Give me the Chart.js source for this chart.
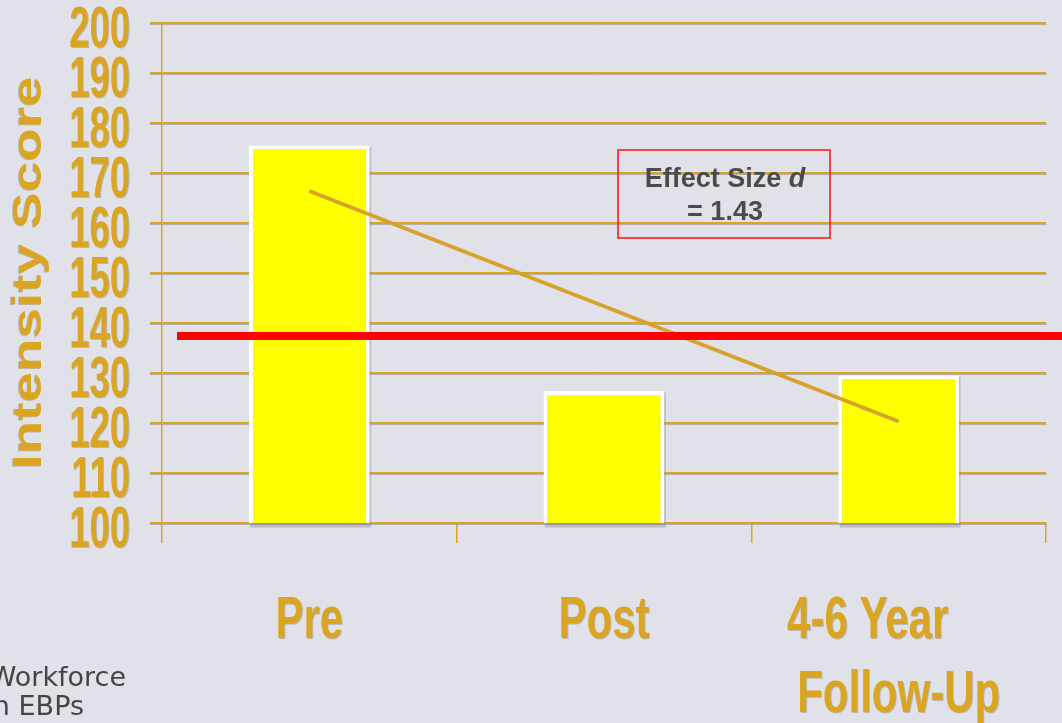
<!DOCTYPE html>
<html>
<head>
<meta charset="utf-8">
<script src="https://cdn.jsdelivr.net/npm/chart.js@4.4.1/dist/chart.umd.min.js"></script>
<style>
  html, body { margin: 0; padding: 0; background: #e1e1e9; overflow: hidden; }
  canvas { display: block; }
</style>
</head>
<body>
<canvas id="c" width="1062" height="723"></canvas>
<script>
// Category axis and its two-line labels
const categories = ['Pre', 'Post', '4-6 Year Follow-Up'];
const categoryLines = [['Pre'], ['Post'], ['4-6 Year', 'Follow-Up']];

// Mean intensity score per assessment point
const intensityScores = [175.5, 126.4, 129.5];

// Linear trend across the three points (middle point left open)
const trendValues = [166.4, null, 120.3];

// Clinical reference level
const referenceLevel = 137.4;

// Value axis
const yTickValues = [100, 110, 120, 130, 140, 150, 160, 170, 180, 190, 200];
const yAxisTitle = 'Intensity Score';

// Effect size note and footer text
const effectSizeLabel = 'Effect Size ';
const effectSizeSymbol = 'd';
const effectSizeValue = '= 1.43';
const footerLines = ['Workforce', 'n EBPs'];

const GOLD = '#daa520';
const BG = '#e1e1e9';

const backgroundPlugin = {
  id: 'bg',
  beforeDraw(chart) {
    const ctx = chart.ctx;
    ctx.save();
    ctx.fillStyle = BG;
    ctx.fillRect(0, 0, chart.width, chart.height);
    ctx.restore();
  }
};

function goldText(ctx) {
  ctx.fillStyle = GOLD;
  ctx.shadowColor = 'rgba(110,110,110,0.35)';
  ctx.shadowOffsetX = 1;
  ctx.shadowOffsetY = 1;
  ctx.shadowBlur = 0;
}

// Soft grey under-edge of the gridlines and bar drop shadows
const depthPlugin = {
  id: 'depth',
  beforeDatasetsDraw(chart) {
    const ctx = chart.ctx;
    const ys = chart.scales.y;
    const area = chart.chartArea;
    ctx.save();
    ctx.strokeStyle = 'rgba(140,135,125,0.55)';
    ctx.lineWidth = 1;
    yTickValues.forEach(v => {
      const py = Math.round(ys.getPixelForValue(v)) + 1.5;
      ctx.beginPath();
      ctx.moveTo(area.left - 12, py);
      ctx.lineTo(area.right + 1, py);
      ctx.stroke();
    });
    const meta = chart.getDatasetMeta(0);
    ctx.fillStyle = 'rgba(120,120,130,0.35)';
    meta.data.forEach(bar => {
      const p = bar.getProps(['x', 'y', 'base', 'width'], true);
      const bottom = Math.min(p.base, area.bottom) + 3;
      ctx.fillRect(p.x - p.width / 2 + 1.5, p.y + 1.5, p.width, bottom - p.y);
    });
    ctx.restore();
  }
};

// Horizontal reference line across the plot
const referencePlugin = {
  id: 'reference',
  afterDatasetsDraw(chart) {
    const ctx = chart.ctx;
    const y = chart.scales.y.getPixelForValue(referenceLevel);
    ctx.save();
    ctx.strokeStyle = '#ff0000';
    ctx.lineWidth = 8;
    ctx.beginPath();
    ctx.moveTo(chart.chartArea.left + 15, y);
    ctx.lineTo(chart.width, y);
    ctx.stroke();
    ctx.restore();
  }
};

// Axis labels, titles, effect size box and footer
const labelsPlugin = {
  id: 'labels',
  afterDraw(chart) {
    const ctx = chart.ctx;
    const ys = chart.scales.y;
    const xs = chart.scales.x;
    const area = chart.chartArea;

    // Y tick labels (condensed bold)
    ctx.save();
    goldText(ctx);
    ctx.font = 'bold 57px "Liberation Sans", Arial, sans-serif';
    ctx.textAlign = 'right';
    ctx.textBaseline = 'alphabetic';
    const sy = 0.64;
    yTickValues.forEach(v => {
      const py = ys.getPixelForValue(v);
      ctx.save();
      ctx.translate(area.left - 32, py + 24);
      ctx.scale(sy, 1);
      ctx.fillText(String(v), 0, 0);
      ctx.restore();
    });
    ctx.restore();

    // Y axis title, rotated and stretched
    ctx.save();
    goldText(ctx);
    ctx.font = 'bold 40px "Liberation Sans", Arial, sans-serif';
    ctx.textAlign = 'center';
    ctx.textBaseline = 'middle';
    ctx.translate(30, (area.top + area.bottom) / 2);
    ctx.rotate(-Math.PI / 2);
    ctx.scale(1.37, 1);
    ctx.shadowOffsetX = -0.7;
    ctx.shadowOffsetY = 0.7;
    ctx.fillText(yAxisTitle, 0, 0);
    ctx.restore();

    // X category labels
    ctx.save();
    goldText(ctx);
    ctx.font = 'bold 60px "Liberation Sans", Arial, sans-serif';
    ctx.textAlign = 'center';
    ctx.textBaseline = 'alphabetic';
    const sx = 0.7;
    categoryLines.forEach((lines, i) => {
      const cx = xs.getPixelForValue(i);
      lines.forEach((t, j) => {
        const shift = (lines.length > 1 && j === 0) ? -31 : 0;
        ctx.save();
        ctx.translate(cx + shift, area.bottom + 115 + j * 74);
        ctx.scale(sx, 1);
        ctx.fillText(t, 0, 0);
        ctx.restore();
      });
    });
    ctx.restore();

    // Effect size box
    ctx.save();
    const bx = area.left + 456, by = area.top + 127, bw = 212, bh = 88;
    ctx.strokeStyle = '#ff1010';
    ctx.lineWidth = 1.5;
    ctx.strokeRect(bx, by, bw, bh);
    ctx.fillStyle = '#4b4b4b';
    ctx.textBaseline = 'alphabetic';
    const fNorm = 'bold 27px "Liberation Sans", Arial, sans-serif';
    const fItal = 'italic bold 27px "Liberation Sans", Arial, sans-serif';
    ctx.font = fNorm;
    const w1 = ctx.measureText(effectSizeLabel).width;
    ctx.font = fItal;
    const w2 = ctx.measureText(effectSizeSymbol).width;
    const cx = bx + bw / 2 + 1;
    const x0 = cx - (w1 + w2) / 2;
    ctx.textAlign = 'left';
    ctx.font = fNorm;
    ctx.fillText(effectSizeLabel, x0, by + 37);
    ctx.font = fItal;
    ctx.fillText(effectSizeSymbol, x0 + w1, by + 37);
    ctx.font = fNorm;
    ctx.textAlign = 'center';
    ctx.fillText(effectSizeValue, cx, by + 70);
    ctx.restore();

    // Footer text at bottom-left
    ctx.save();
    ctx.fillStyle = '#454545';
    ctx.font = '27px "DejaVu Sans", sans-serif';
    ctx.textAlign = 'right';
    ctx.textBaseline = 'alphabetic';
    ctx.fillText(footerLines[0], 126, 686);
    ctx.fillText(footerLines[1], 84, 715);
    ctx.restore();
  }
};

new Chart(document.getElementById('c'), {
  data: {
    labels: categories,
    datasets: [
      {
        type: 'bar',
        label: 'Intensity',
        data: intensityScores,
        backgroundColor: '#ffff00',
        borderColor: '#ffffff',
        borderWidth: 4,
        borderSkipped: false,
        categoryPercentage: 1,
        barPercentage: 0.41,
        order: 1
      },
      {
        type: 'line',
        label: 'Trend',
        data: trendValues,
        spanGaps: true,
        borderColor: '#d6a22a',
        borderWidth: 4,
        pointRadius: 0,
        tension: 0,
        order: 0
      }
    ]
  },
  options: {
    responsive: false,
    animation: false,
    layout: { padding: { left: 150, top: 23, right: 16, bottom: 180 } },
    plugins: {
      legend: { display: false },
      tooltip: { enabled: false }
    },
    scales: {
      x: {
        type: 'category',
        offset: true,
        ticks: { display: false },
        grid: {
          offset: true,
          drawOnChartArea: false,
          drawTicks: true,
          tickLength: 20,
          color: GOLD,
          lineWidth: 1.5
        },
        border: { display: true, color: GOLD, width: 2 }
      },
      y: {
        type: 'linear',
        min: 100,
        max: 200,
        ticks: { display: false, stepSize: 10 },
        grid: {
          drawTicks: true,
          tickLength: 12,
          color: GOLD,
          lineWidth: 2
        },
        border: { display: true, color: GOLD, width: 1.5 }
      }
    }
  },
  plugins: [backgroundPlugin, depthPlugin, referencePlugin, labelsPlugin]
});
</script>
</body>
</html>
